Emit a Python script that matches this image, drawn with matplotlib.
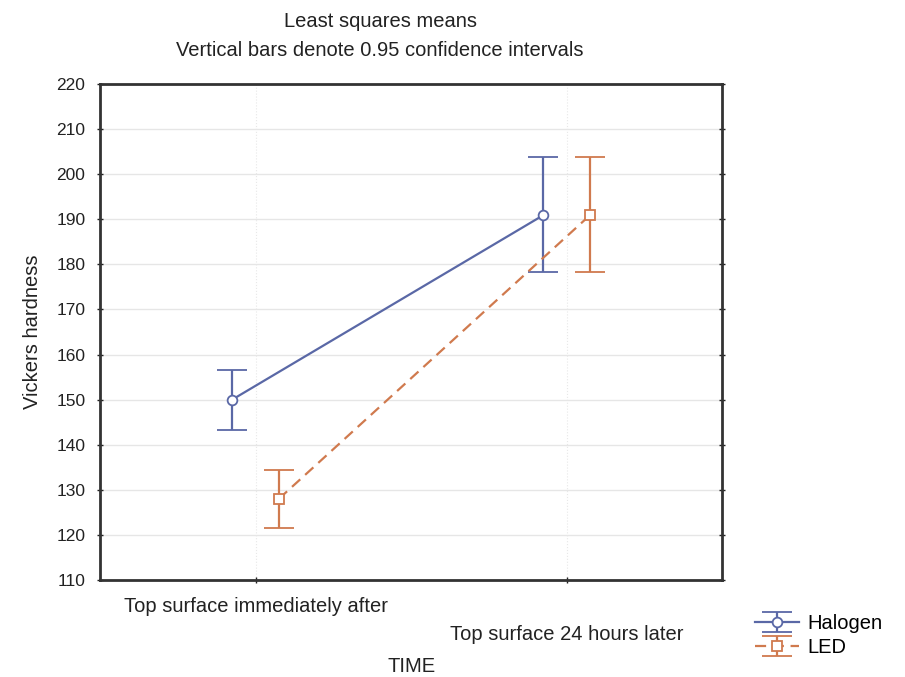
import matplotlib.pyplot as plt
import numpy as np

plt.rcParams['font.family'] = ['Liberation Sans', 'DejaVu Sans']

# data
time_labels = ['Top surface immediately after', 'Top surface 24 hours later']
halogen_mean = [150.0, 190.9]
halogen_low = [143.2, 178.3]
halogen_high = [156.5, 203.7]
led_mean = [128.0, 190.9]
led_low = [121.6, 178.3]
led_high = [134.3, 203.7]

halogen_color = '#5a68a6'
led_color = '#d07a4e'

fig = plt.figure(figsize=(9.05, 6.77), dpi=100)
ax = fig.add_axes([0.1105, 0.1433, 0.6875, 0.7327])

x = np.arange(len(time_labels))
off = 0.075

h = ax.errorbar(x - off, halogen_mean,
                yerr=[np.array(halogen_mean) - np.array(halogen_low),
                      np.array(halogen_high) - np.array(halogen_mean)],
                color=halogen_color, lw=1.6, marker='o', ms=7, mfc='white',
                mec=halogen_color, mew=1.3, capsize=11, capthick=1.6,
                elinewidth=1.6, label='Halogen', zorder=3)
l = ax.errorbar(x + off, led_mean,
                yerr=[np.array(led_mean) - np.array(led_low),
                      np.array(led_high) - np.array(led_mean)],
                color=led_color, lw=1.6, ls='--', dashes=(5, 3), marker='s', ms=6.5,
                mfc='white', mec=led_color, mew=1.3, capsize=11, capthick=1.6,
                elinewidth=1.6, label='LED', zorder=3)

ax.set_xlim(-0.5, 1.5)
ax.set_ylim(110, 220)
ax.set_yticks(np.arange(110, 221, 10))
ax.set_xticks(x)
ax.set_xticklabels(time_labels, fontsize=14.5)
ax.xaxis.get_major_ticks()[0].set_pad(10)
ax.xaxis.get_major_ticks()[1].set_pad(30)

ax.grid(axis='y', color='#e6e6e6', lw=1)
ax.grid(axis='x', color='#e8e8e8', lw=0.8, ls=':')
ax.set_axisbelow(True)

ax.tick_params(axis='both', direction='inout', length=5, width=1, colors='#222222',
               labelcolor='#222222', right=True)
ax.tick_params(axis='y', pad=8, labelsize=12.5)
for s in ax.spines.values():
    s.set_linewidth(2)
    s.set_color('#333333')

ax.set_ylabel('Vickers hardness', fontsize=14.5, color='#222222', labelpad=10)
ax.set_xlabel('TIME', fontsize=14.5, color='#222222', labelpad=9)

fig.text(0.42, 0.968, 'Least squares means', ha='center', va='center',
         fontsize=14.5, color='#222222')
fig.text(0.42, 0.925, 'Vertical bars denote 0.95 confidence intervals', ha='center',
         va='center', fontsize=14.5, color='#222222')

fig.legend(handles=[h, l], loc='upper left', bbox_to_anchor=(0.825, 0.105),
           frameon=False, fontsize=14.5, handlelength=2.2, handletextpad=0.4,
           labelspacing=0.25, borderaxespad=0)

fig.savefig('out.png', dpi=100)
